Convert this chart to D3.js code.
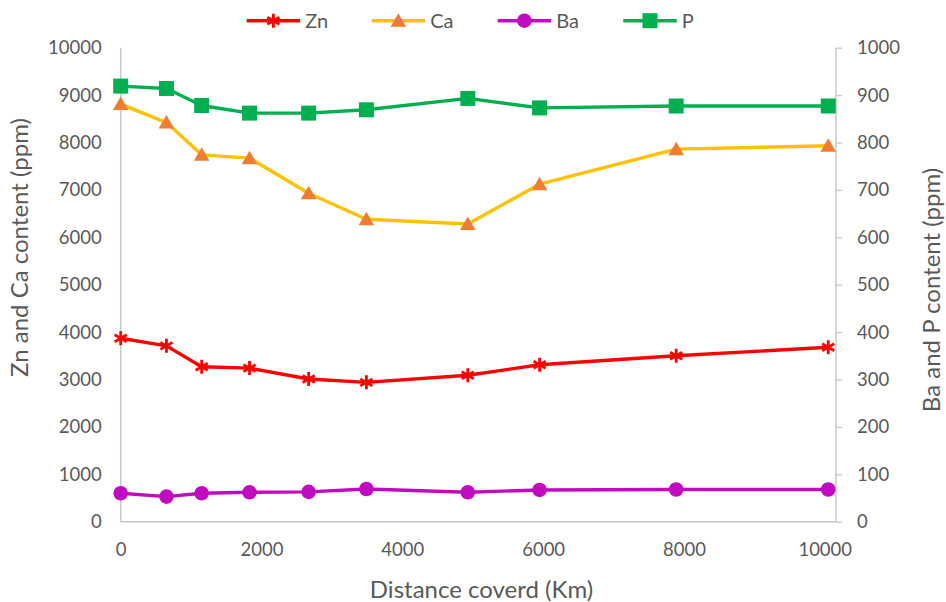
<!DOCTYPE html>
<html>
<head>
<meta charset="utf-8">
<script src="https://cdn.jsdelivr.net/npm/d3@7"></script>
<style>
  body { margin: 0; background: #ffffff; }
  text { font-family: Lato, "Open Sans", sans-serif; fill: #595959; }
</style>
</head>
<body>
<svg id="chart" width="946" height="602"></svg>
<script>
// Distance travelled (km) at each sampling point
const distance = [0, 650, 1150, 1830, 2670, 3490, 4930, 5950, 7890, 10050];
// Element contents (ppm)
const zn = [3870, 3710, 3270, 3240, 3010, 2940, 3090, 3310, 3500, 3680];
const ca = [8810, 8420, 7740, 7670, 6930, 6380, 6280, 7120, 7860, 7930];
const ba = [60, 53, 60, 62, 63, 69, 62, 67, 68, 68];
const p  = [919, 914, 878, 862, 862, 869, 893, 873, 877, 877];

// Tick values
const xTicks = [0, 2000, 4000, 6000, 8000, 10000];
const leftTicks = [0, 1000, 2000, 3000, 4000, 5000, 6000, 7000, 8000, 9000, 10000];
const rightTicks = [0, 100, 200, 300, 400, 500, 600, 700, 800, 900, 1000];

const svg = d3.select("#chart");
const axisColor = "#C8C8C8";

const x = d3.scaleLinear().domain([0, 10160]).range([120.7, 836]);
const yL = d3.scaleLinear().domain([0, 10000]).range([521.7, 47.7]);
const yR = d3.scaleLinear().domain([0, 1000]).range([521.7, 47.7]);

// Axes
const gLeft = svg.append("g").attr("transform", `translate(${x(0)},0)`)
  .call(d3.axisLeft(yL).tickValues(leftTicks).tickSize(0).tickPadding(19).tickFormat(d3.format("d")));
const gRight = svg.append("g").attr("transform", `translate(${x.range()[1]},0)`)
  .call(d3.axisRight(yR).tickValues(rightTicks).tickSize(6).tickPadding(15).tickFormat(d3.format("d")));
const gBottom = svg.append("g").attr("transform", `translate(0,${yL(0)})`)
  .call(d3.axisBottom(x).tickValues(xTicks).tickSize(0).tickPadding(21).tickFormat(d3.format("d")));

[gLeft, gRight, gBottom].forEach(g => {
  g.select(".domain").remove();
  g.selectAll("text").style("font-size", "18.5px").attr("fill", "#595959")
    .style("font-family", "Lato, 'Open Sans', sans-serif");
  g.selectAll("line").attr("stroke", axisColor).attr("stroke-width", 1.3);
});

// Axis lines
svg.append("line").attr("x1", x(0)).attr("x2", x(0)).attr("y1", yL(10000)).attr("y2", yL(0))
  .attr("stroke", axisColor).attr("stroke-width", 1.5);
svg.append("line").attr("x1", x.range()[1]).attr("x2", x.range()[1]).attr("y1", yR(1000)).attr("y2", yR(0))
  .attr("stroke", axisColor).attr("stroke-width", 1.5);
svg.append("line").attr("x1", x(0)).attr("x2", x.range()[1]).attr("y1", yL(0)).attr("y2", yL(0))
  .attr("stroke", axisColor).attr("stroke-width", 1.5);

// Marker shapes
const starPath = (() => {
  const r = 7, a = r * Math.cos(Math.PI / 6), b = r * Math.sin(Math.PI / 6);
  return `M0,${-r}L0,${r}M${-a},${-b}L${a},${b}M${-a},${b}L${a},${-b}`;
})();
const triPath = "M0,-7.5L7.8,6L-7.8,6Z";

const series = [
  { name: "Zn", values: zn, y: yL, line: "#FF0000", marker: "star", fill: "#FF0000" },
  { name: "Ca", values: ca, y: yL, line: "#FFC000", marker: "triangle", fill: "#ED7D31" },
  { name: "Ba", values: ba, y: yR, line: "#C00BC0", marker: "circle", fill: "#C00BC0" },
  { name: "P",  values: p,  y: yR, line: "#00B050", marker: "square", fill: "#00B050" }
];

function drawMarker(g, s) {
  if (s.marker === "star") {
    g.append("path").attr("d", starPath).attr("stroke", s.fill).attr("stroke-width", 2.8)
      .attr("fill", "none");
  } else if (s.marker === "triangle") {
    g.append("path").attr("d", triPath).attr("fill", s.fill);
  } else if (s.marker === "circle") {
    g.append("circle").attr("r", 7.3).attr("fill", s.fill);
  } else {
    g.append("rect").attr("x", -7.5).attr("y", -7.5).attr("width", 15).attr("height", 15)
      .attr("fill", s.fill);
  }
}

series.forEach(s => {
  const pts = distance.map((d, i) => [d, s.values[i]]);
  const line = d3.line().x(d => x(d[0])).y(d => s.y(d[1]));
  svg.append("path").datum(pts).attr("d", line).attr("fill", "none")
    .attr("stroke", s.line).attr("stroke-width", 3.4).attr("stroke-linejoin", "round");
  pts.forEach(d => {
    const g = svg.append("g").attr("transform", `translate(${x(d[0])},${s.y(d[1])})`);
    drawMarker(g, s);
  });
});

// Legend
const legendX = [246.7, 371.7, 497.7, 623.3];
const legendY = 20.7;
series.forEach((s, i) => {
  const lx = legendX[i];
  svg.append("line").attr("x1", lx).attr("x2", lx + 53.5).attr("y1", legendY).attr("y2", legendY)
    .attr("stroke", s.line).attr("stroke-width", 3.4);
  const g = svg.append("g").attr("transform", `translate(${lx + 26.7},${legendY})`);
  drawMarker(g, s);
  svg.append("text").attr("x", lx + 58.5).attr("y", legendY).attr("dy", "0.35em")
    .style("font-size", "20px").text(s.name);
});

// Axis titles
svg.append("text").attr("transform", "translate(28,247.5) rotate(-90)")
  .attr("text-anchor", "middle").style("font-size", "24px").text("Zn and Ca content (ppm)");
svg.append("text").attr("transform", "translate(940,290) rotate(-90)")
  .attr("text-anchor", "middle").style("font-size", "24px").text("Ba and P content (ppm)");
svg.append("text").attr("x", 481.5).attr("y", 598)
  .attr("text-anchor", "middle").style("font-size", "24px").text("Distance coverd (Km)");
</script>
</body>
</html>
